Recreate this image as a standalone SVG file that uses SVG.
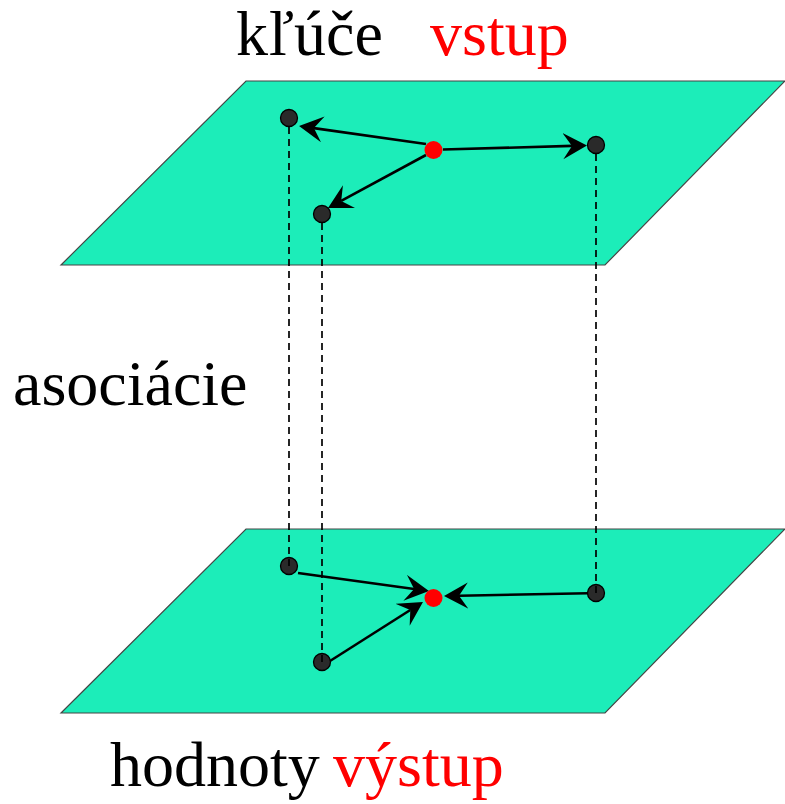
<svg xmlns="http://www.w3.org/2000/svg" width="785" height="804" viewBox="0 0 785 804">
<style>
.plane{fill:#1CEDB9;stroke:#454545;stroke-width:1.2}
.arrow{stroke:#000;stroke-width:2.6;fill:none;marker-end:url(#ah)}
.dash{stroke:#000;stroke-width:1.7;stroke-dasharray:7 5;fill:none}
.bk{fill:#2a2a2a;stroke:#000;stroke-width:1.3}
.rd{fill:#ff0000}
.t{font-family:"Liberation Serif","Times New Roman",serif;font-size:64px;fill:#000}
.red{fill:#ff0000}
</style>
<defs>
<marker id="ah" markerUnits="userSpaceOnUse" markerWidth="30" markerHeight="30" refX="9" refY="13" orient="auto">
<path d="M24,13 L0,0 L9,13 L0,26 Z" fill="#000"/>
</marker>
</defs>
<g id="plane-top"><polygon class="plane" points="61,265 246,81 785,81 605,265"/></g>
<g id="plane-bottom"><polygon class="plane" points="61,713 246,529 785,529 605,713"/></g>
<g id="connectors">
<line class="arrow" x1="426" y1="144" x2="313.9" y2="128.1"/>
<line class="arrow" x1="443" y1="149.5" x2="572" y2="145.9"/>
<line class="arrow" x1="426" y1="155" x2="341.2" y2="200.9"/>
<line class="arrow" x1="298" y1="573" x2="414.1" y2="589"/>
<line class="arrow" x1="330" y1="661" x2="410.3" y2="610"/>
<line class="arrow" x1="588" y1="593.3" x2="459" y2="595.7"/>
</g>
<g id="node-top-a"><circle class="bk" cx="289" cy="118" r="8.5"/></g>
<g id="node-top-b"><circle class="bk" cx="596" cy="145" r="8.5"/></g>
<g id="node-top-c"><circle class="bk" cx="322" cy="214" r="8.5"/></g>
<g id="node-top-in"><circle class="rd" cx="433.5" cy="150" r="9"/></g>
<g id="node-bot-a"><circle class="bk" cx="289" cy="566" r="8.5"/></g>
<g id="node-bot-b"><circle class="bk" cx="596" cy="593" r="8.5"/></g>
<g id="node-bot-c"><circle class="bk" cx="322" cy="662" r="8.5"/></g>
<g id="node-bot-out"><circle class="rd" cx="433.5" cy="598" r="9"/></g>
<g id="associations">
<line class="dash" x1="289" y1="127" x2="289" y2="566"/>
<line class="dash" x1="322" y1="223" x2="322" y2="662"/>
<line class="dash" x1="596" y1="154" x2="596" y2="593"/>
</g>
<g id="labels">
<text class="t" x="236" y="55">kľúče</text>
<text class="t red" x="430" y="55">vstup</text>
<text class="t" x="13" y="405">asociácie</text>
<text class="t" x="110" y="786">hodnoty</text>
<text class="t red" x="333" y="786">výstup</text>
</g>
</svg>
